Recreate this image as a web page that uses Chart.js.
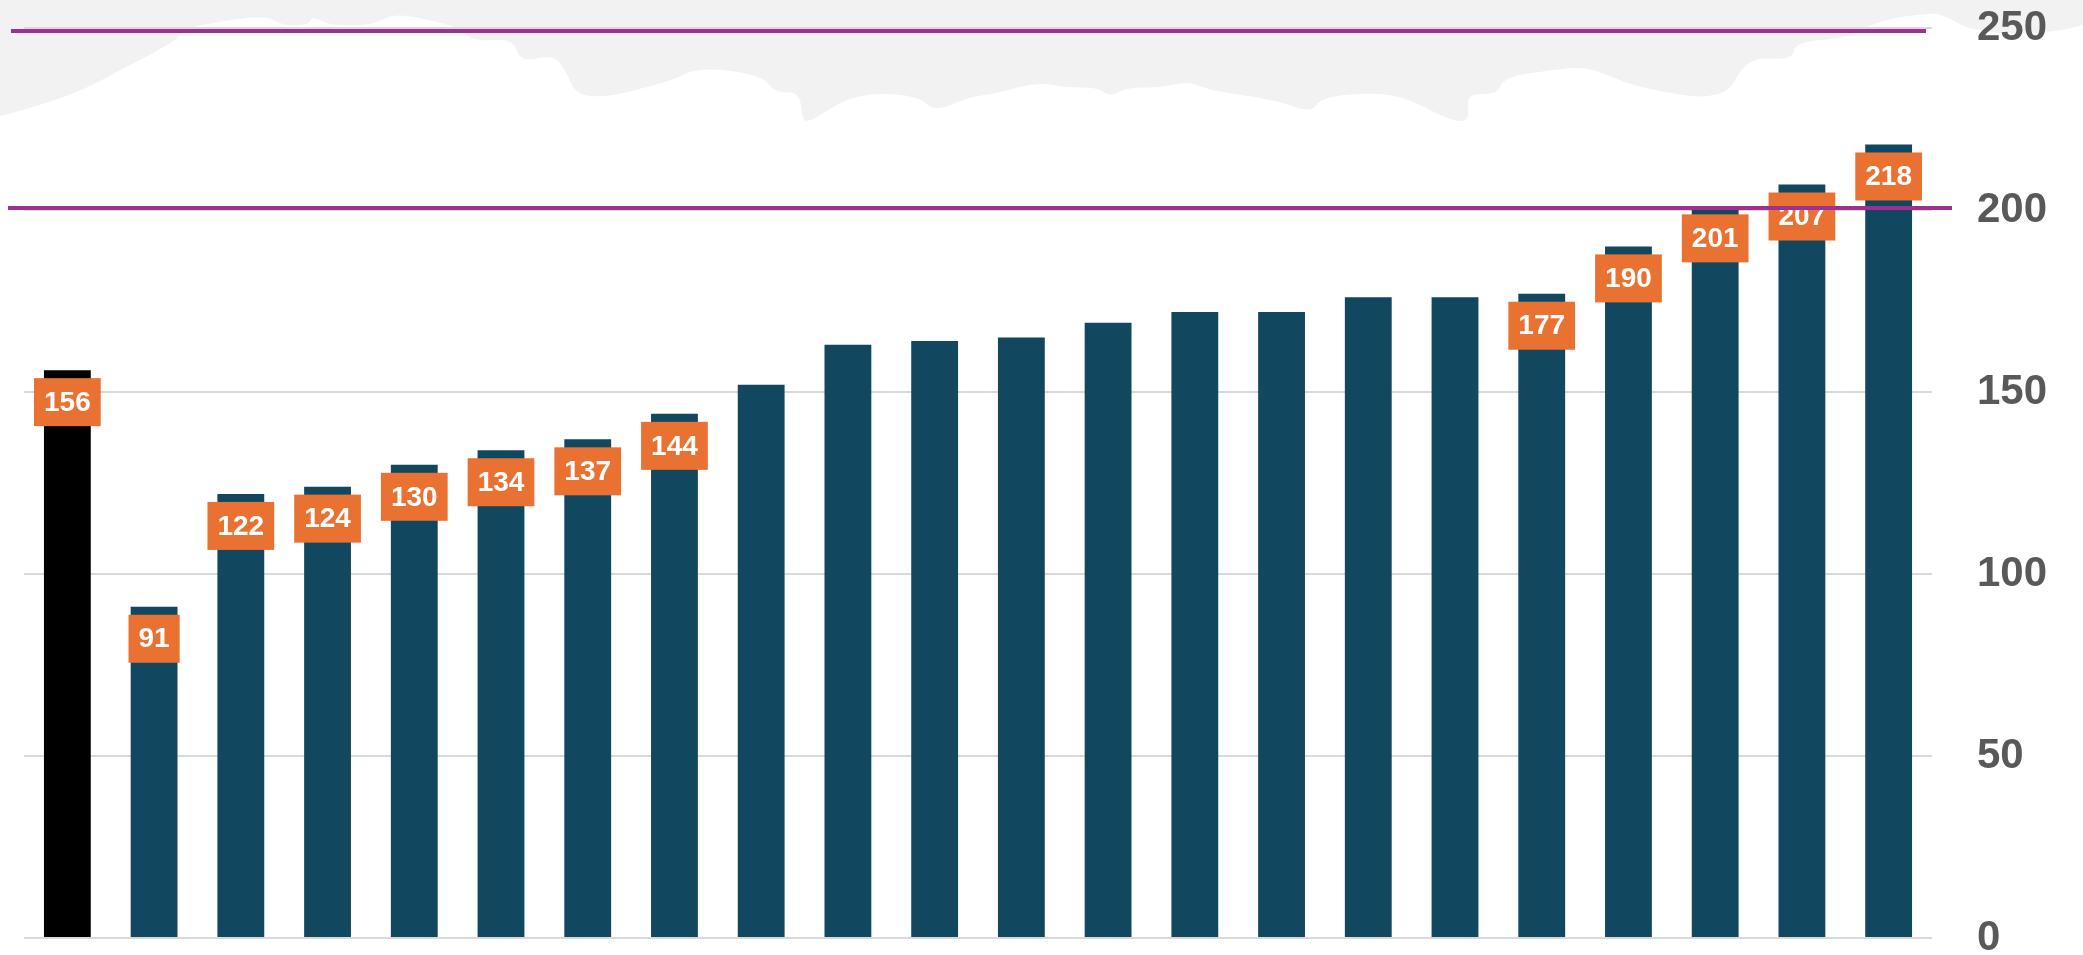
<!DOCTYPE html>
<html>
<head>
<meta charset="utf-8">
<script src="https://cdn.jsdelivr.net/npm/chart.js@4.4.0/dist/chart.umd.min.js"></script>
<style>
    html, body { margin: 0; padding: 0; background: #fff; }
    #wrap { width: 2083px; height: 955px; position: relative; }
</style>
</head>
<body>
<div id="wrap"><canvas id="chart"></canvas></div>
<script>
/* --- Data --- */
const categories = ['1', '2', '3', '4', '5', '6', '7', '8', '9', '10', '11',
                    '12', '13', '14', '15', '16', '17', '18', '19', '20', '21', '22'];
const values = [156, 91, 122, 124, 130, 134, 137, 144, 152, 163, 164,
                165, 169, 172, 172, 176, 176, 177, 190, 201, 207, 218];
// value labels shown on the chart (null = no label)
const valueLabels = [156, 91, 122, 124, 130, 134, 137, 144, null, null, null,
                     null, null, null, null, null, null, 177, 190, 201, 207, 218];
const yTicks = [0, 50, 100, 150, 200, 250];
const refLines = [200, 250];
const highlightIndex = 0;

/* --- Background silhouette (decoration only) --- */
const silhouette = [
    [0,116],[64,100],[134,63],[172,43],[185,30],[204,24],[265,15],[284,26],[309,25],[312,16],
    [332,26],[373,25],[395,13],[434,21],[456,27],[475,42],[513,38],[520,62],[552,55],[564,67],
    [580,103],[670,82],[698,67],[762,75],[775,93],[800,92],[802,120],[810,122],[855,93],[918,95],
    [934,112],[969,97],[1000,93],[1035,82],[1069,88],[1097,87],[1110,97],[1128,87],[1159,88],
    [1190,81],[1207,90],[1276,100],[1311,113],[1321,98],[1359,93],[1401,95],[1449,120],[1470,122],
    [1466,93],[1497,95],[1504,77],[1552,70],[1580,67],[1601,72],[1635,87],[1725,102],[1746,57],
    [1793,60],[1795,42],[1847,38],[1870,25],[1893,18],[1933,13],[1943,15],[1977,33],[2050,33],[2083,25]
];

const backdrop = {
    id: 'backdrop',
    beforeDraw(chart) {
        const ctx = chart.ctx;
        ctx.save();
        ctx.fillStyle = '#ffffff';
        ctx.fillRect(0, 0, chart.width, chart.height);
        ctx.fillStyle = '#F2F2F2';
        ctx.beginPath();
        ctx.moveTo(0, 0);
        ctx.lineTo(silhouette[0][0], silhouette[0][1]);
        for (let i = 1; i < silhouette.length - 1; i++) {
            const mx = (silhouette[i][0] + silhouette[i + 1][0]) / 2;
            const my = (silhouette[i][1] + silhouette[i + 1][1]) / 2;
            ctx.quadraticCurveTo(silhouette[i][0], silhouette[i][1], mx, my);
        }
        const last = silhouette[silhouette.length - 1];
        ctx.lineTo(last[0], last[1]);
        ctx.lineTo(chart.width, 0);
        ctx.closePath();
        ctx.fill();
        ctx.restore();
    }
};

/* --- Value boxes + purple reference lines --- */
const overlays = {
    id: 'overlays',
    afterDatasetsDraw(chart) {
        const ctx = chart.ctx;
        const meta = chart.getDatasetMeta(0);
        ctx.save();
        ctx.font = 'bold 28px "Liberation Sans", Arial, sans-serif';
        ctx.textAlign = 'center';
        ctx.textBaseline = 'middle';
        meta.data.forEach((bar, i) => {
            const label = valueLabels[i];
            if (label === null) return;
            const text = String(label);
            const w = ctx.measureText(text).width + 20;
            const h = 48;
            const top = bar.y + 8;
            ctx.fillStyle = '#E97132';
            ctx.fillRect(bar.x - w / 2, top, w, h);
            ctx.fillStyle = '#ffffff';
            ctx.fillText(text, bar.x, top + h / 2 + 1);
        });

        // reference lines drawn on top
        const y = chart.scales.y;
        const extents = { 200: [8, 1952, -2], 250: [11, 1926, 3] };
        ctx.strokeStyle = '#A0308F';
        ctx.lineWidth = 4;
        refLines.forEach(v => {
            const [x0, x1, dy] = extents[v] || [chart.chartArea.left, chart.chartArea.right, 0];
            const py = y.getPixelForValue(v) + dy;
            ctx.beginPath();
            ctx.moveTo(x0, py);
            ctx.lineTo(x1, py);
            ctx.stroke();
        });
        ctx.restore();
    }
};

new Chart(document.getElementById('chart'), {
    type: 'bar',
    data: {
        labels: categories,
        datasets: [{
            data: values,
            backgroundColor: (c) => c.dataIndex === highlightIndex ? '#000000' : '#11485F',
            borderWidth: 0,
            categoryPercentage: 1,
            barPercentage: 0.54
        }]
    },
    options: {
        responsive: true,
        maintainAspectRatio: false,
        animation: false,
        layout: { padding: { left: 24, top: 28, right: 0, bottom: 17 } },
        plugins: {
            legend: { display: false },
            tooltip: { enabled: false }
        },
        scales: {
            x: { display: false },
            y: {
                position: 'right',
                min: yTicks[0],
                max: yTicks[yTicks.length - 1],
                afterBuildTicks: (scale) => { scale.ticks = yTicks.map(v => ({ value: v })); },
                afterFit: (scale) => {
                    scale.width = 151;
                    scale.paddingTop = 0;
                    scale.paddingBottom = 0;
                },
                border: { display: false },
                grid: { color: '#D9D9D9', lineWidth: 2, drawTicks: false },
                ticks: {
                    color: '#595959',
                    padding: 45,
                    font: { family: '"Liberation Sans", Arial, sans-serif', weight: 'bold', size: 42, lineHeight: 0.75 }
                }
            }
        }
    },
    plugins: [backdrop, overlays]
});
</script>
</body>
</html>
